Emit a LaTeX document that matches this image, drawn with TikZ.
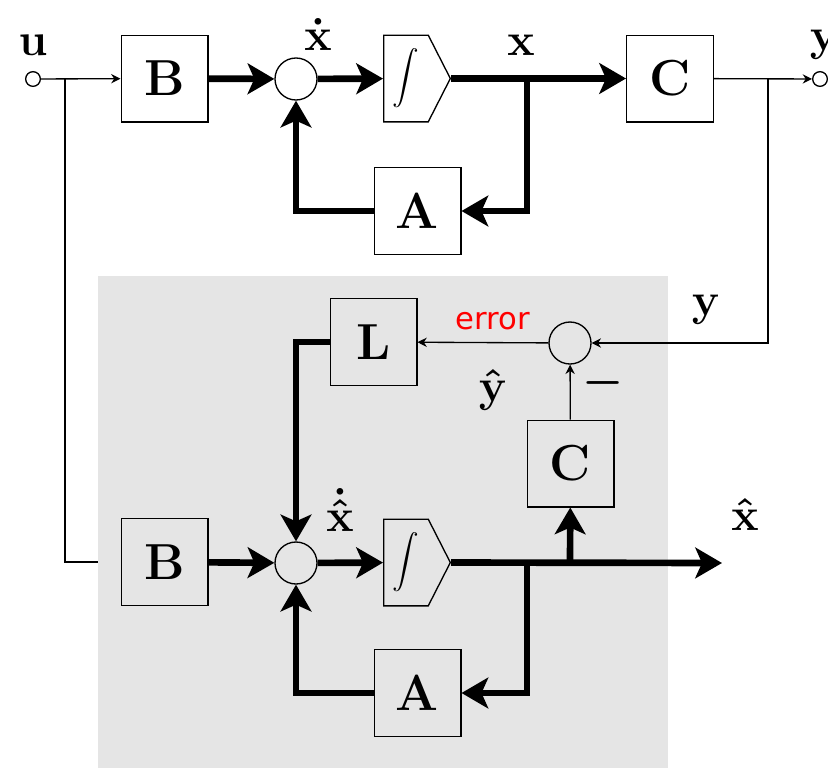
\documentclass[tikz,border=0pt]{standalone}
\usepackage{graphicx}
\usepackage{fontspec}
\newfontfamily\errfont{DejaVu Sans}
\usetikzlibrary{positioning,shapes.symbols,arrows.meta}
\definecolor{shade}{RGB}{229,229,229}
\definecolor{errred}{RGB}{255,0,0}
\newcommand{\biglbl}[1]{\scalebox{2}{$#1$}}

\begin{document}
\begin{tikzpicture}[
    x=0.75pt, y=-0.75pt,
    block/.style={rectangle, draw, line width=1pt, minimum size=65pt, inner sep=0pt, font=\bfseries\fontsize{38}{38}\selectfont},
    sumnode/.style={circle, draw, line width=1pt, minimum size=31.5pt, inner sep=0pt},
    intblock/.style={signal, signal to=east, signal pointer angle=126, draw, line width=1pt, minimum width=50pt, minimum height=65pt, inner sep=0pt},
    port/.style={circle, draw, line width=1pt, minimum size=11pt, inner sep=0pt},
    lbl/.style={font=\bfseries\boldmath\fontsize{18}{18}\selectfont},
    busline/.style={line width=5pt},
    busarrow/.style={busline, -{Stealth[length=20pt,width=23pt,inset=5pt]}},
    sigline/.style={line width=1pt},
    sigarrow/.style={sigline, -{Stealth[length=7pt,width=7pt]}}
]
\useasboundingbox (0,0) rectangle (828,768);

% Observer region
\node[fill=shade, minimum width=427.5pt, minimum height=369pt, inner sep=0pt, anchor=north west] (obs) at (98,276) {};

% Plant
\node[port] (u) at (33,79) {};
\node[lbl] (ulab) at (33,45) {\biglbl{\mathbf{u}}};
\node[block] (B1) at (164.5,78.5) {B};
\node[sumnode] (S1) at (296,79) {};
\node[lbl] (xdot) at (318,34) {\biglbl{\dot{\mathbf{x}}}};
\node[intblock, anchor=west] (I1) at (383,78.5) {\scalebox{2}{$\displaystyle\int$}};
\node[lbl] (xlab) at (521,45) {\biglbl{\mathbf{x}}};
\node[block] (C1) at (670,78.5) {C};
\node[port] (y) at (820,79) {};
\node[lbl] (ylab) at (824,45) {\biglbl{\mathbf{y}}};
\node[block] (A1) at (417.5,211) {A};
\coordinate (bu) at (65,79);
\coordinate (bx1) at (527,79);
\coordinate (by) at (768,79);

% Observer
\node[block] (L) at (373.5,342) {L};
\node[sumnode] (E) at (570,343) {};
\node[font=\errfont\fontsize{23}{23}\selectfont, text=errred] (err) at (493,321) {error};
\node[lbl] (ylab2) at (706,310) {\biglbl{\mathbf{y}}};
\node[lbl] (yhat) at (493,390) {\biglbl{\hat{\mathbf{y}}}};
\node[lbl] (minus) at (603,383) {\biglbl{-}};
\node[block] (C2) at (570.5,463.5) {C};
\node[block] (B2) at (164.5,562) {B};
\node[sumnode] (S2) at (296,563) {};
\node[lbl] (xhdot) at (340,510) {\biglbl{\dot{\hat{\mathbf{x}}}}};
\node[intblock, anchor=west] (I2) at (383,562.5) {\scalebox{2}{$\displaystyle\int$}};
\node[lbl] (xhat) at (745,514) {\biglbl{\hat{\mathbf{x}}}};
\node[block] (A2) at (417.5,693) {A};
\coordinate (xout) at (722,563);
\coordinate (bx2) at (527,563);
\coordinate (bc) at (570,563);

% Plant connections
\draw[sigarrow] (u) -- (B1);
\draw[sigline] (bu) |- (obs.west |- B2);
\draw[busarrow] (B1) -- (S1);
\draw[busarrow] (S1) -- (I1);
\draw[busarrow] (I1.east) -- (C1);
\draw[busarrow] (bx1) |- (A1);
\draw[busarrow] (A1) -| (S1);
\draw[sigarrow] (C1) -- (y);
\draw[sigarrow] (by) |- (E);

% Observer connections
\draw[sigarrow] (E) -- (L);
\draw[sigarrow] (C2) -- (E);
\draw[busarrow] (L) -| (S2);
\draw[busarrow] (B2) -- (S2);
\draw[busarrow] (S2) -- (I2);
\draw[busarrow] (I2.east) -- (xout);
\draw[busarrow] (bc) -- (C2);
\draw[busarrow] (bx2) |- (A2);
\draw[busarrow] (A2) -| (S2);

\end{tikzpicture}
\end{document}
